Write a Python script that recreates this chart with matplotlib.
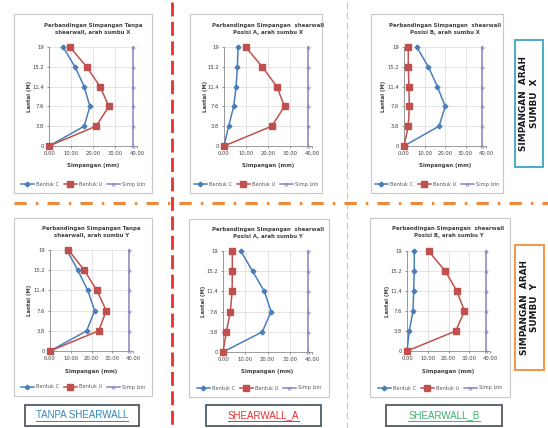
import matplotlib
matplotlib.use("Agg")
import matplotlib.pyplot as plt
from matplotlib.patches import Rectangle
from matplotlib.lines import Line2D

# ---- data -------------------------------------------------------------
lantai = [0, 3.8, 7.6, 11.4, 15.2, 19]
lantai_labels = ["0", "3.8", "7.6", "11.4", "15.2", "19"]
x_ticks = [0, 10, 20, 30, 40]
x_tick_labels = ["0.00", "10.00", "20.00", "30.00", "40.00"]

simp_izin = [38, 38, 38, 38, 38, 38]

tanpa_x_c = [0, 16.0, 18.6, 16.0, 11.8, 6.4]
tanpa_x_u = [0, 21.4, 27.2, 23.2, 17.1, 9.5]
swa_x_c = [0, 2.1, 4.4, 5.5, 6.1, 6.4]
swa_x_u = [0, 21.7, 27.5, 24.0, 17.4, 9.8]
swb_x_c = [0, 17.1, 20.1, 16.3, 11.9, 6.2]
swb_x_u = [0, 2.1, 2.6, 2.4, 2.1, 2.1]

tanpa_y_c = [0, 17.7, 21.5, 18.2, 13.4, 8.1]
tanpa_y_u = [0, 23.5, 27.1, 22.6, 16.5, 8.9]
swa_y_c = [0, 17.7, 21.6, 18.6, 13.3, 8.0]
swa_y_u = [0, 1.5, 3.3, 4.1, 4.2, 4.2]
swb_y_c = [0, 1.1, 2.9, 3.2, 3.5, 3.5]
swb_y_u = [0, 23.5, 27.7, 24.0, 18.4, 10.4]

titles = [
    "Perbandingan Simpangan Tanpa\nshearwall, arah sumbu X",
    "Perbandingan Simpangan  shearwall\nPosisi A, arah sumbu X",
    "Perbandingan Simpangan  shearwall\nPosisi B, arah sumbu X",
    "Perbandingan Simpangan Tanpa\nshearwall, arah sumbu Y",
    "Perbandingan Simpangan  shearwall\nPosisi A, arah sumbu Y",
    "Perbandingan Simpangan  shearwall\nPosisi B, arah sumbu Y",
]
series = [
    (tanpa_x_c, tanpa_x_u), (swa_x_c, swa_x_u), (swb_x_c, swb_x_u),
    (tanpa_y_c, tanpa_y_u), (swa_y_c, swa_y_u), (swb_y_c, swb_y_u),
]
legend_names = ["Bentuk C", "Bentuk U", "Simp Izin"]

# ---- layout (pixel units) ---------------------------------------------
W, H = 548, 428
fig = plt.figure(figsize=(W / 100, H / 100), dpi=100)
fig.patch.set_facecolor("white")


def fx(x):
    return x / W


def fy(y):
    return 1 - y / H


# chart frame (x0, x1, y0, y1) and plot area (x0, x1, ytop, ybottom)
frames = [
    (14, 152, 14, 193), (190, 322, 14, 193), (371, 503, 14, 193),
    (14, 152, 218, 396), (189, 329, 219, 397), (370, 510, 218, 397),
]
plots = [
    (49, 137, 47, 146), (224, 312, 47, 146), (404, 486, 47, 146),
    (50, 133, 250, 351), (223, 312, 251, 352), (407, 490, 251, 351),
]
ylabel_x = [30, 205, 384, 30, 203, 387]

blue = "#4a7ebb"
red = "#c0504d"
purple = "#8a80c0"
grid_c = "#d9d9d9"
txt_c = "#404040"

for i in range(6):
    fx0, fx1, fy0, fy1 = frames[i]
    fig.patches.append(Rectangle((fx(fx0), fy(fy1)), fx(fx1) - fx(fx0),
                                 fy(fy0) - fy(fy1), transform=fig.transFigure,
                                 fill=False, edgecolor="#c8c8c8", lw=0.8))
    px0, px1, pt, pb = plots[i]
    ax = fig.add_axes([fx(px0), fy(pb), fx(px1) - fx(px0), fy(pt) - fy(pb)])
    c_vals, u_vals = series[i]
    ax.plot(c_vals, lantai, color=blue, lw=1.1, marker="D", ms=2.4,
            mfc=blue, mec=blue, clip_on=False, zorder=4, label=legend_names[0])
    ax.plot(u_vals, lantai, color=red, lw=1.1, marker="s", ms=4.2,
            mfc=red, mec=red, clip_on=False, zorder=4, label=legend_names[1])
    ax.plot(simp_izin, lantai, color=purple, lw=1.1, marker="^", ms=2.2,
            mfc="none", mec=purple, mew=0.5, clip_on=False, zorder=3,
            label=legend_names[2])
    ax.set_xlim(0, 40)
    ax.set_ylim(0, 19)
    ax.set_xticks(x_ticks)
    ax.set_xticklabels(x_tick_labels)
    ax.set_yticks(lantai)
    ax.set_yticklabels(lantai_labels)
    ax.tick_params(labelsize=3.8, colors=txt_c, length=1.5, width=0.4, pad=2)
    ax.grid(True, color=grid_c, lw=0.5)
    ax.set_axisbelow(True)
    for s in ("top", "right"):
        ax.spines[s].set_visible(False)
    for s in ("left", "bottom"):
        ax.spines[s].set_color("#8c8c8c")
        ax.spines[s].set_linewidth(0.6)

    cx = (px0 + px1) / 2
    title_y = fy0 + 15 if i < 3 else fy0 + 14
    fig.text(fx(cx), fy(title_y), titles[i], ha="center", va="center",
             fontsize=3.9, fontweight="bold", color=txt_c, linespacing=1.5)
    fig.text(fx(cx), fy(pb + 20), "Simpangan (mm)", ha="center", va="center",
             fontsize=3.9, fontweight="bold", color=txt_c)
    fig.text(fx(ylabel_x[i]), fy((pt + pb) / 2), "Lantai (M)", ha="center",
             va="center", rotation=90, fontsize=3.9, fontweight="bold",
             color=txt_c)
    ax.legend(loc="center", bbox_to_anchor=(fx((fx0 + fx1) / 2), fy(fy1 - 9)),
              bbox_transform=fig.transFigure, ncol=3, frameon=False,
              fontsize=3.6, labelcolor="#595959", handlelength=2.6,
              columnspacing=1.0, handletextpad=0.4, borderpad=0)

# ---- separators -------------------------------------------------------
fig.add_artist(Line2D([fx(172), fx(172)], [fy(2), fy(428)], color="#e8302f",
                      lw=2.0, dashes=(5, 2), transform=fig.transFigure))
fig.add_artist(Line2D([fx(347), fx(347)], [fy(2), fy(428)], color="#c8c8c8",
                      lw=0.8, dashes=(6, 3), transform=fig.transFigure))
fig.add_artist(Line2D([fx(14), fx(548)], [fy(203), fy(203)], color="#f0883a",
                      lw=2.2, dashes=(4, 3, 0.8, 3), transform=fig.transFigure))

# ---- side labels ------------------------------------------------------
side = [((515, 543, 40, 167), "#4bacc6", "SIMPANGAN  ARAH\nSUMBU  X"),
        ((515, 544, 245, 370), "#f79646", "SIMPANGAN  ARAH\nSUMBU  Y")]
for (x0, x1, y0, y1), ec, label in side:
    fig.patches.append(Rectangle((fx(x0), fy(y1)), fx(x1) - fx(x0),
                                 fy(y0) - fy(y1), transform=fig.transFigure,
                                 fill=False, edgecolor=ec, lw=1.4))
    fig.text(fx((x0 + x1) / 2), fy((y0 + y1) / 2), label, rotation=90,
             ha="center", va="center", fontsize=6.4, fontweight="bold",
             color="#1a1a1a", linespacing=1.2)

# ---- bottom labels ----------------------------------------------------
bottom = [((25, 139), "TANPA SHEARWALL", "#2e86c1"),
          ((206, 321), "SHEARWALL_A", "#e83030"),
          ((386, 502), "SHEARWALL_B", "#3cb371")]
for (x0, x1), label, col in bottom:
    y0, y1 = 405, 426
    fig.patches.append(Rectangle((fx(x0), fy(y1)), fx(x1) - fx(x0),
                                 fy(y0) - fy(y1), transform=fig.transFigure,
                                 fill=False, edgecolor="#4f5b66", lw=1.3))
    t = fig.text(fx((x0 + x1) / 2), fy((y0 + y1) / 2), label, ha="center",
                 va="center", fontsize=7, color=col, family="Liberation Sans")
    fig.canvas.draw()
    bb = t.get_window_extent()
    ul_y = bb.y0 - 0.5
    fig.add_artist(Line2D([bb.x0 / W, bb.x1 / W], [ul_y / H, ul_y / H],
                          color=col, lw=0.7, transform=fig.transFigure))

fig.savefig("out.png", dpi=100, facecolor="white")
